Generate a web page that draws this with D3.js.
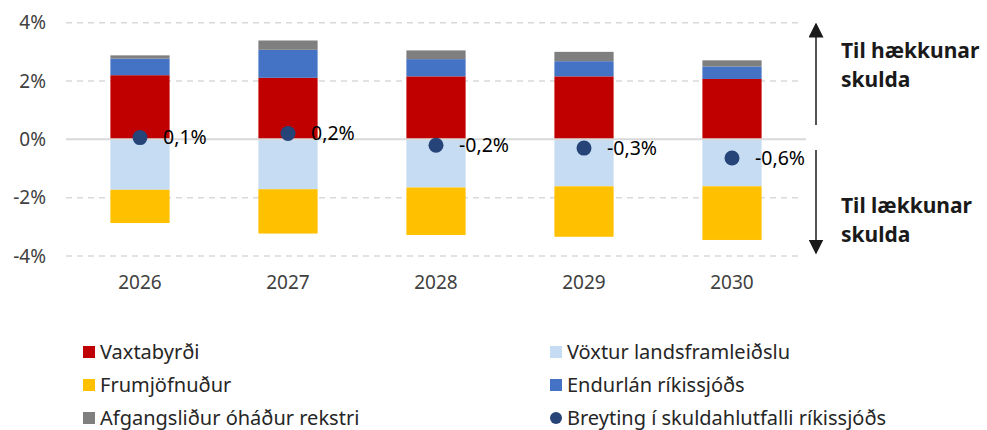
<!DOCTYPE html>
<html>
<head>
<meta charset="utf-8">
<script src="https://cdn.jsdelivr.net/npm/d3@7"></script>
<style>
  body { margin: 0; background: #fff; }
  text { font-family: "Noto Sans", "Open Sans", sans-serif; }
</style>
</head>
<body>
<div id="chart"></div>
<script>
// Gögn (lesin af myndinni)
const years = ["2026", "2027", "2028", "2029", "2030"];
const vaxtabyrdi = [2.2, 2.11, 2.16, 2.16, 2.07];
const endurlan = [0.57, 0.96, 0.59, 0.52, 0.43];
const afgangslidur = [0.11, 0.32, 0.30, 0.32, 0.21];
const voxtur = [-1.73, -1.71, -1.65, -1.61, -1.61];
const frumjofnudur = [-1.14, -1.52, -1.63, -1.73, -1.84];
const breyting = [0.06, 0.2, -0.2, -0.3, -0.64];
const yTicks = [-4, -2, 0, 2, 4];

// raðir: jákvæðar staflast upp, neikvæðar niður
const series = [
  {name: "Vaxtabyrði", values: vaxtabyrdi, color: "#C00000"},
  {name: "Frumjöfnuður", values: frumjofnudur, color: "#FFC000"},
  {name: "Afgangsliður óháður rekstri", values: afgangslidur, color: "#7F7F7F"},
  {name: "Vöxtur landsframleiðslu", values: voxtur, color: "#C5DCF2"},
  {name: "Endurlán ríkissjóðs", values: endurlan, color: "#4472C4"}
];
const stackOrder = ["Vaxtabyrði", "Endurlán ríkissjóðs", "Afgangsliður óháður rekstri",
                    "Vöxtur landsframleiðslu", "Frumjöfnuður"];
const dotColor = "#264478";

const W = 987, H = 430;
const svg = d3.select("#chart").append("svg")
  .attr("width", W).attr("height", H);

const x = d3.scaleBand()
  .domain(years)
  .range([66, 806])
  .paddingInner(0.6)
  .paddingOuter(0.3);

const y = d3.scaleLinear()
  .domain([-4, 4])
  .range([256, 22.7]);

const is = d3.formatLocale({decimal: ",", thousands: ".", grouping: [3], currency: ["", " kr."], minus: "-"});
const fmtPct = is.format(".1f");

// gridlínur
svg.append("g")
  .selectAll("line")
  .data(yTicks.filter(d => d !== 0))
  .join("line")
    .attr("x1", 66).attr("x2", 803)
    .attr("y1", d => y(d)).attr("y2", d => y(d))
    .attr("stroke", "#d9d9d9")
    .attr("stroke-width", 1.5)
    .attr("stroke-dasharray", "6,5");

// y-ás merki
svg.append("g")
  .selectAll("text")
  .data(yTicks)
  .join("text")
    .attr("x", 46)
    .attr("y", d => y(d))
    .attr("dy", "0.35em")
    .attr("text-anchor", "end")
    .style("font-size", "19px")
    .style("fill", "#404040")
    .text(d => d + "%");

// staflar
const bars = svg.append("g");
years.forEach((yr, i) => {
  let pos = 0, neg = 0;
  stackOrder.forEach(nm => {
    const s = series.find(d => d.name === nm);
    const v = s.values[i];
    let y0, y1;
    if (v >= 0) { y0 = pos; y1 = pos + v; pos = y1; }
    else { y0 = neg; y1 = neg + v; neg = y1; }
    bars.append("rect")
      .attr("x", x(yr))
      .attr("width", x.bandwidth())
      .attr("y", y(Math.max(y0, y1)))
      .attr("height", Math.abs(y(y0) - y(y1)))
      .attr("fill", s.color);
  });
});

// núlllína
svg.append("line")
  .attr("x1", 66).attr("x2", 806)
  .attr("y1", y(0)).attr("y2", y(0))
  .attr("stroke", "#d9d9d9")
  .attr("stroke-width", 2);

// x-ás merki
svg.append("g")
  .selectAll("text")
  .data(years)
  .join("text")
    .attr("x", d => x(d) + x.bandwidth() / 2)
    .attr("y", 282)
    .attr("dy", "0.35em")
    .attr("text-anchor", "middle")
    .style("font-size", "19px")
    .style("fill", "#404040")
    .text(d => d);

// punktar + merki
const dots = svg.append("g");
dots.selectAll("circle")
  .data(breyting)
  .join("circle")
    .attr("cx", (d, i) => x(years[i]) + x.bandwidth() / 2)
    .attr("cy", d => y(d))
    .attr("r", 7.5)
    .attr("fill", dotColor);
dots.selectAll("text")
  .data(breyting)
  .join("text")
    .attr("x", (d, i) => x(years[i]) + x.bandwidth() / 2 + 23)
    .attr("y", d => y(d))
    .attr("dy", "0.35em")
    .style("font-size", "19.5px")
    .style("fill", "#000")
    .text(d => fmtPct(d) + "%");

// örvar
const ax = 816;
svg.append("defs").append("marker")
  .attr("id", "head")
  .attr("viewBox", "0 0 10 10")
  .attr("refX", 9).attr("refY", 5)
  .attr("markerWidth", 15).attr("markerHeight", 15)
  .attr("markerUnits", "userSpaceOnUse")
  .attr("orient", "auto")
  .append("path").attr("d", "M0,0 L10,5 L0,10 Z").attr("fill", "#1a1a1a");

svg.append("line")
  .attr("x1", ax).attr("x2", ax)
  .attr("y1", 125).attr("y2", 24)
  .attr("stroke", "#1a1a1a").attr("stroke-width", 1.5)
  .attr("marker-end", "url(#head)");
svg.append("line")
  .attr("x1", ax).attr("x2", ax)
  .attr("y1", 150).attr("y2", 253)
  .attr("stroke", "#1a1a1a").attr("stroke-width", 1.5)
  .attr("marker-end", "url(#head)");

const note = svg.append("g")
  .style("font-size", "21px")
  .style("font-weight", "bold")
  .style("fill", "#1a1a1a");
[["Til hækkunar", 58], ["skulda", 87], ["Til lækkunar", 213], ["skulda", 242]].forEach(([t, yy]) => {
  note.append("text").attr("x", 841).attr("y", yy).text(t);
});

// skýringar
const legendItems = [
  {name: "Vaxtabyrði", col: 0, row: 0},
  {name: "Frumjöfnuður", col: 0, row: 1},
  {name: "Afgangsliður óháður rekstri", col: 0, row: 2},
  {name: "Vöxtur landsframleiðslu", col: 1, row: 0},
  {name: "Endurlán ríkissjóðs", col: 1, row: 1},
  {name: "Breyting í skuldahlutfalli ríkissjóðs", col: 1, row: 2}
];
const colX = [83, 550];
const legend = svg.append("g");
legendItems.forEach(it => {
  const ly = 352 + it.row * 33;
  const lx = colX[it.col];
  const s = series.find(d => d.name === it.name);
  if (s) {
    legend.append("rect")
      .attr("x", lx).attr("y", ly - 6)
      .attr("width", 12).attr("height", 12)
      .attr("fill", s.color);
  } else {
    legend.append("circle")
      .attr("cx", lx + 6).attr("cy", ly)
      .attr("r", 6)
      .attr("fill", dotColor);
  }
  legend.append("text")
    .attr("x", lx + 17).attr("y", ly)
    .attr("dy", "0.35em")
    .style("font-size", "20px")
    .style("fill", "#262626")
    .text(it.name);
});
</script>
</body>
</html>
